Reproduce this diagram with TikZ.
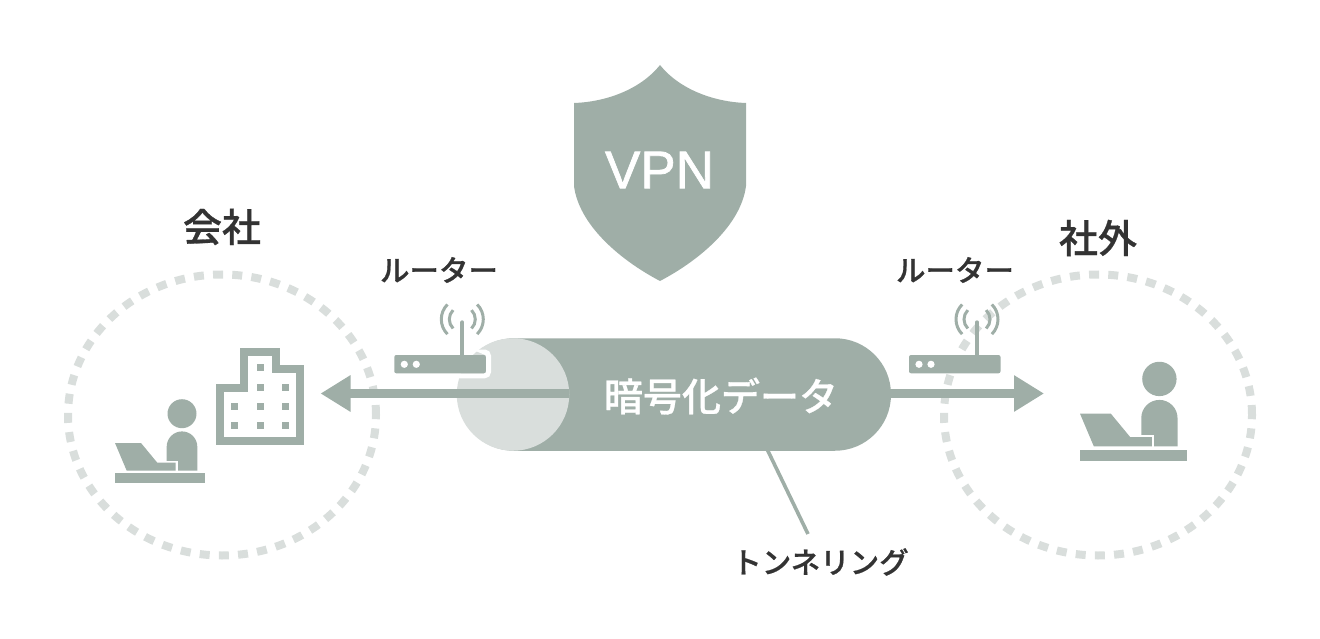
\documentclass[tikz,border=0pt]{standalone}
\usepackage{fontspec}
\setmainfont[BoldFont={* Medium},BoldFeatures={FakeBold=0.7}]{Noto Sans CJK JP}
\newfontfamily\latinfont[FakeBold=1.3]{Liberation Sans}
\usetikzlibrary{arrows.meta,shapes.geometric}
\definecolor{sage}{HTML}{9FAEA7}
\definecolor{mist}{HTML}{D9DEDC}
\definecolor{ink}{HTML}{333333}
\tikzset{
  zone/.style={draw=mist,shape=ellipse,line width=8pt,dash pattern=on 10pt off 9.2pt,
    minimum width=308pt,minimum height=281pt,inner sep=0pt},
  caption/.style={text=ink,font=\bfseries\fontsize{29.5}{29.5}\selectfont,inner sep=0pt},
  place/.style={text=ink,font=\bfseries\fontsize{39}{39}\selectfont,inner sep=0pt},
  pipe/.style={draw=sage,line width=8.5pt,-{Triangle[length=30pt,width=34.5pt]}},
  lead/.style={draw=sage,line width=3.6pt},
  wave/.style={draw=sage,line width=3pt},
  worker/.pic={
    \fill[sage] (67,-69) circle (14.5);
    \fill[sage] (51.7,-12) -- (51.7,-36) arc (180:360:15.3) -- (82.3,-12) -- cycle;
    \fill[white] (50,-22) rectangle (62.7,-11);
    \fill[sage] (0,-39.7) -- (26,-39.7) -- (42.3,-20) -- (60.7,-20) -- (60.7,-12) -- (11.7,-12) -- cycle;
    \fill[sage] (0,-9.4) rectangle (90,0);
  },
  router/.pic={
    \draw[sage,line width=4pt,line cap=round] (68,-16) -- (68,-51);
    \fill[sage,rounded corners=2pt] (0,0) rectangle (91.5,-18.3);
    \fill[white] (10,-9) circle (3.6) (22,-9) circle (3.6);
    \draw[wave] (68,-54) ++(45:21) arc (45:-45:21);
    \draw[wave] (68,-54) ++(135:21) arc (135:225:21);
    \draw[wave] (68,-54) ++(45:13) arc (45:-45:13);
    \draw[wave] (68,-54) ++(135:13) arc (135:225:13);
  }
}
\begin{document}
\begin{tikzpicture}[x=1pt,y=-1pt]
   \useasboundingbox (0,0) rectangle (1320,639);
   \path (222,415) node[zone] (office) {};
   \path (1098,415) node[zone] (outside) {};
   \path (222,227) node[place] (officeLabel) {会社};
   \path (1098,238) node[place] (outsideLabel) {社外};
   \path (439,270) node[caption] (routerLabelA) {ルーター};
   \path (955,270) node[caption] (routerLabelB) {ルーター};
   \fill[sage] (660,65) .. controls (680,90) and (715,102) .. (746,103) -- (746,186)
     .. controls (741,225) and (700,260) .. (660,281) .. controls (620,260) and (579,225) .. (574,186)
     -- (574,103) .. controls (605,102) and (640,90) .. (660,65) -- cycle;
   \path (659.5,170) node[text=white,inner sep=0pt,font=\latinfont\fontsize{53}{53}\selectfont] (vpn) {VPN};
   \path (674.5,394.5) node[fill=sage,shape=rectangle,rounded corners=56pt,minimum width=433pt,minimum height=112.5pt,inner sep=0pt] (tunnel) {};
   \path (513,394.5) node[fill=mist,shape=circle,minimum size=112.5pt,inner sep=0pt] (tunnelCap) {};
   \path (721,396) node[text=white,inner sep=0pt,font=\bfseries\fontsize{39}{39}\selectfont] (cipher) {暗号化データ};
   \coordinate (leftTip) at (320.5,393.5);
   \coordinate (rightTip) at (1044,393.5);
   \draw[white,line width=9.6pt] (tunnelCap.west |- leftTip) -- (tunnelCap.east |- leftTip);
   \draw[pipe] (tunnelCap.east |- leftTip) -- (leftTip);
   \draw[pipe] (tunnel.east |- rightTip) -- (rightTip);
   \draw[white,line width=5pt,rounded corners=4pt] (486,352) -- (488.5,352) -- (488.5,375.8) -- (430,375.8);
   \path (394.3,373.3) pic {router};
   \path (909,373.3) pic {router};
   \path (115,482.7) pic {worker};
   \path (1080,460.7) pic[scale=1.185] {worker};
   \draw[sage,line width=8pt] (220,440.5) -- (220,388.2) -- (243.8,388.2) -- (243.8,352) -- (275.7,352) -- (275.7,368.7) -- (299.5,368.7) -- (299.5,440.5) -- cycle;
   \foreach \col/\row in {234/406,234/425.3,260/367.7,260/387,260/406,260/425.3,285.7/387,285.7/406,285.7/425.3}
     \fill[sage] (\col-3.5,\row-3.5) rectangle (\col+3.5,\row+3.5);
   \path (820.5,562) node[caption] (tunnelLabel) {トンネリング};
   \coordinate (leadTop) at (767.5,450);
   \coordinate (leadEnd) at (808,534);
   \draw[lead] (leadTop) -- (leadEnd);
\end{tikzpicture}
\end{document}
